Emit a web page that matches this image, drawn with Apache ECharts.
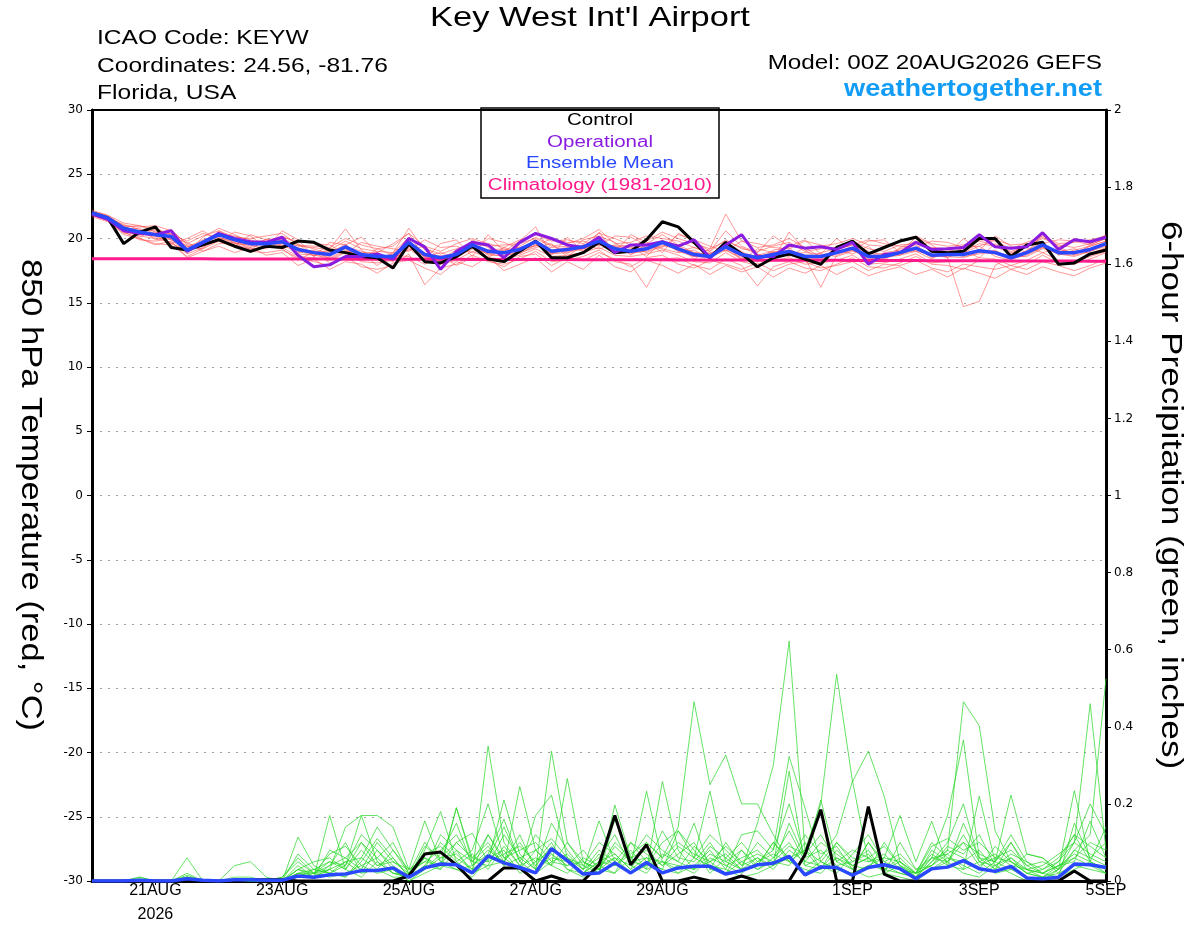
<!DOCTYPE html>
<html>
<head>
<meta charset="utf-8">
<title>Key West Int'l Airport</title>
<script src="https://cdn.jsdelivr.net/npm/echarts@6/dist/echarts.min.js"></script>
<style>
  html, body { margin: 0; padding: 0; background: #fff; }
  #chart { width: 1200px; height: 927px; }
</style>
</head>
<body>
<div id="chart"></div>
<script>
// forecast hours from 00Z 20AUG2026, every 6 h
var hours = [0,6,12,18,24,30,36,42,48,54,
  60,66,72,78,84,90,96,102,108,114,
  120,126,132,138,144,150,156,162,168,174,
  180,186,192,198,204,210,216,222,228,234,
  240,246,252,258,264,270,276,282,288,294,
  300,306,312,318,324,330,336,342,348,354,
  360,366,372,378,384];

// x axis labels
var tickIdx = [4, 12, 20, 28, 36, 48, 56, 64];
var tickLabels = ['21AUG\n2026', '23AUG', '25AUG', '27AUG', '29AUG', '1SEP', '3SEP', '5SEP'];

// 850 hPa temperature (C)
var controlT = [22.0,21.6,19.6,20.5,20.9,19.3,19.1,19.5,19.9,19.4,
  19.0,19.4,19.3,19.8,19.7,19.1,18.9,18.6,18.5,17.7,
  19.6,18.2,18.1,18.6,19.4,18.4,18.2,19.0,19.8,18.5,
  18.5,18.9,19.7,18.9,19.0,19.9,21.3,20.9,19.7,18.5,
  19.7,18.8,17.8,18.5,18.8,18.4,18.0,19.3,19.8,18.8,
  19.3,19.8,20.1,19.0,18.9,19.0,20.0,20.0,18.6,19.5,
  19.7,18.0,18.1,18.8,19.1];

var operT = [21.9,21.5,20.6,20.4,20.3,20.6,19.0,19.7,20.4,20.0,
  19.75,19.7,20.1,18.7,17.8,17.95,18.6,18.6,18.8,18.4,
  20.0,19.35,17.6,19.0,19.7,19.5,18.5,19.7,20.4,20.0,
  19.5,19.3,20.1,18.9,19.5,19.5,19.75,19.4,19.9,18.5,
  19.5,20.3,18.6,18.6,19.5,19.25,19.35,19.15,19.7,18.0,
  18.75,18.9,19.7,19.15,19.2,19.3,20.3,19.35,19.25,19.35,
  20.45,19.15,19.9,19.75,20.1];

var meanT = [22.0,21.6,20.8,20.5,20.3,20.15,19.1,19.7,20.3,19.9,
  19.6,19.6,19.75,19.15,18.9,18.75,19.35,18.75,18.6,18.6,
  19.7,18.75,18.5,18.75,19.5,19.0,18.9,19.15,19.75,19.0,
  19.15,19.35,19.8,19.2,19.0,19.2,19.7,19.2,18.75,18.6,
  19.35,18.75,18.5,18.75,19.0,18.6,18.6,18.9,19.25,18.6,
  18.6,18.9,19.25,18.7,18.75,18.75,19.05,18.9,18.5,18.9,
  19.5,18.9,18.9,19.15,19.6];

var climT = [18.43,18.43,18.43,18.43,18.42,18.42,18.42,18.42,18.41,18.41,
  18.41,18.41,18.40,18.40,18.40,18.40,18.39,18.39,18.39,18.39,
  18.38,18.38,18.38,18.38,18.37,18.37,18.37,18.37,18.36,18.36,
  18.36,18.35,18.35,18.35,18.34,18.34,18.34,18.33,18.33,18.33,
  18.32,18.32,18.31,18.31,18.31,18.30,18.30,18.30,18.29,18.29,
  18.28,18.28,18.28,18.27,18.27,18.27,18.26,18.26,18.25,18.25,
  18.25,18.24,18.24,18.23,18.23];

// ensemble members, temperature
var memT01 = [22.1,21.7,21.0,20.9,21.0,20.6,19.6,20.2,20.6,20.1,
  20.0,20.2,20.4,19.5,19.4,19.3,20.0,19.5,19.2,19.4,
  20.4,19.4,19.0,19.6,20.0,19.6,19.3,19.9,20.3,19.8,
  19.9,19.6,20.4,20.0,19.5,19.8,20.5,20.0,19.6,19.2,
  21.9,19.8,19.3,19.5,20.0,19.3,19.4,19.6,20.0,19.5,
  19.4,19.8,20.2,19.6,19.4,19.5,19.9,19.8,19.2,19.7,
  20.2,19.6,19.7,19.9,20.2];
var memT02 = [21.9,21.5,20.5,20.0,19.6,19.5,18.6,19.2,19.8,19.3,
  19.0,18.9,19.1,18.5,18.2,17.9,18.6,17.8,17.6,17.9,
  18.8,16.4,17.7,18.0,18.7,18.2,18.0,18.4,19.0,18.2,
  18.3,18.6,19.1,18.2,18.0,16.2,18.4,18.5,17.9,17.6,
  18.4,17.9,16.3,17.8,18.2,17.7,17.5,18.0,18.5,17.8,
  17.7,18.1,18.6,18.0,17.9,17.6,18.3,18.2,17.6,18.0,
  18.7,18.1,18.0,18.4,18.9];
var memT03 = [22.0,21.6,21.1,20.7,20.2,19.9,18.9,20.1,20.8,20.3,
  19.7,19.4,20.2,19.6,18.6,19.2,20.75,19.1,18.3,18.9,
  20.8,19.1,18.2,18.4,19.9,19.3,18.5,19.4,20.1,19.5,
  18.8,19.9,20.2,19.7,18.7,19.6,20.3,19.5,18.4,19.2,
  19.8,19.3,18.8,18.4,20.5,19.1,18.3,19.4,19.7,19.0,
  18.4,19.3,19.8,19.2,18.5,19.0,19.6,19.4,18.8,19.5,
  20.1,19.4,18.7,19.5,20.0];
var memT04 = [21.8,21.4,20.6,20.3,20.5,20.0,19.4,19.5,20.0,19.8,
  19.4,19.8,19.5,18.9,19.1,18.4,19.0,18.9,18.9,18.3,
  19.5,18.6,18.9,18.5,19.2,19.1,19.2,18.8,19.5,19.3,
  19.4,19.0,19.6,19.4,19.3,18.9,19.4,19.5,18.9,18.8,
  19.1,18.4,18.7,19.0,18.8,18.9,18.8,18.6,19.0,18.9,
  18.8,18.7,19.0,18.8,18.5,14.7,15.1,17.9,18.6,18.6,
  19.2,19.0,19.2,18.8,19.3];
var memT05 = [22.2,21.8,20.9,20.4,20.1,20.4,19.2,19.4,20.5,19.6,
  19.8,19.6,19.9,19.0,18.7,18.9,19.2,18.4,18.8,18.2,
  19.4,18.9,18.3,18.9,19.3,18.8,19.1,19.3,19.6,18.8,
  19.2,19.5,19.9,19.0,19.2,19.4,19.2,18.9,19.1,18.4,
  19.6,19.0,18.2,19.1,19.3,18.3,18.9,19.2,19.5,18.3,
  18.9,19.1,19.0,18.4,19.1,18.9,19.4,18.6,18.3,19.1,
  19.7,18.7,19.1,19.4,19.8];
var memT06 = [21.9,21.5,20.7,20.8,19.9,20.2,19.0,19.8,20.1,19.7,
  19.3,19.7,19.4,19.3,18.8,18.6,19.5,18.6,18.4,18.8,
  19.9,18.5,18.6,18.8,19.7,18.7,18.7,18.9,19.9,18.9,
  19.0,19.2,19.5,19.4,18.8,19.1,19.9,19.0,18.6,18.9,
  19.2,18.6,18.4,18.9,18.7,18.5,16.2,18.7,19.1,18.4,
  18.5,18.7,19.3,18.5,18.9,18.6,18.8,19.1,18.4,18.7,
  19.3,18.8,18.6,19.0,19.5];
var memT07 = [22.0,21.7,20.9,20.6,20.6,19.9,19.3,19.9,20.2,20.2,
  19.9,19.5,20.0,19.4,19.3,19.1,19.8,19.2,19.0,18.9,
  20.1,19.2,18.8,19.2,19.6,19.4,19.5,19.6,20.0,19.4,
  19.6,20.0,20.7,19.6,19.7,20.2,20.0,19.8,19.3,19.0,
  19.9,19.2,19.0,19.4,19.7,19.0,19.2,19.3,19.8,19.2,
  19.0,19.5,19.6,19.3,19.2,19.4,19.8,19.5,19.0,19.4,
  20.0,19.5,19.3,19.6,20.1];
var memT08 = [22.0,21.6,20.6,20.2,20.0,19.7,18.8,19.3,19.9,19.5,
  19.2,19.3,19.3,18.6,18.5,18.3,18.9,18.2,18.1,18.3,
  19.2,18.3,18.0,18.3,19.0,18.5,18.4,18.7,19.2,18.6,
  18.7,18.9,19.3,18.7,18.6,18.8,19.1,18.7,18.2,18.1,
  18.9,18.2,17.9,18.3,18.5,18.0,18.1,18.3,18.7,18.0,
  18.1,18.4,18.8,18.1,18.2,18.2,18.5,18.4,17.9,18.3,
  18.9,18.3,18.2,18.6,19.0];
var memT09 = [21.9,21.6,21.0,20.3,20.4,20.7,19.5,19.6,20.4,20.0,
  19.6,19.9,19.6,19.2,19.0,19.0,19.4,19.0,18.7,18.5,
  19.6,18.8,18.6,18.6,19.4,18.9,18.8,19.2,19.7,19.1,
  19.3,19.4,19.9,19.3,19.1,19.3,19.6,19.3,18.9,18.6,
  19.3,18.9,18.6,18.9,19.1,18.7,18.7,19.0,19.3,18.7,
  18.7,19.0,19.2,18.8,18.8,18.8,19.1,19.0,18.6,19.0,
  19.5,19.0,19.0,19.2,19.6];
var memT10 = [21.7,21.3,20.4,20.5,20.2,19.6,19.1,19.5,20.0,19.6,
  19.5,19.2,19.8,18.8,18.7,18.5,19.1,18.5,18.5,18.4,
  19.3,18.6,18.4,18.6,19.3,18.8,18.6,19.0,19.5,18.8,
  18.9,19.2,19.6,18.9,18.9,19.0,19.5,19.1,18.6,18.5,
  19.1,18.5,18.4,18.6,18.9,18.5,18.4,18.8,19.1,18.5,
  18.5,18.8,19.1,18.6,18.6,18.5,18.9,18.8,18.4,18.8,
  19.3,18.8,18.7,19.0,19.4];
var memT11 = [22.1,21.8,21.2,21.0,20.7,20.3,19.8,20.4,20.0,19.4,
  20.3,19.9,20.1,19.8,19.6,19.5,18.8,19.7,19.4,19.2,
  19.0,19.9,19.3,19.4,18.9,20.0,19.7,19.2,19.4,20.0,
  19.7,19.8,19.4,20.2,20.1,19.5,19.3,20.3,19.9,19.4,
  19.0,19.8,19.6,19.3,19.2,19.8,19.5,19.1,19.5,19.9,
  19.6,19.4,19.3,19.8,19.7,19.3,19.4,19.9,19.5,19.6,
  19.6,19.9,19.8,19.5,20.0];
var memT12 = [21.8,21.4,20.5,19.9,19.8,20.0,19.7,19.0,19.6,19.7,
  18.9,19.4,19.2,18.3,19.0,18.1,18.4,18.9,17.9,18.7,
  18.6,18.0,18.7,17.9,18.5,18.3,17.8,18.6,18.8,17.9,
  18.5,18.3,18.9,18.4,17.8,18.5,18.7,18.0,17.7,18.3,
  18.0,17.6,18.1,17.5,18.0,18.2,17.7,17.9,18.2,17.5,
  18.0,17.9,18.3,17.7,17.4,18.0,17.8,17.6,17.9,17.6,
  18.2,17.9,17.5,17.9,18.4];
var memT13 = [22.0,21.7,20.9,21.0,20.5,19.6,20.0,20.6,19.8,20.5,
  20.2,19.3,20.6,19.9,18.6,19.7,19.5,20.1,18.9,19.6,
  20.4,18.4,19.6,19.9,18.6,20.3,19.0,19.8,20.9,18.7,
  20.1,19.0,20.5,18.9,20.3,19.7,18.9,20.4,19.8,19.0,
  20.6,19.4,18.9,20.2,19.4,19.9,18.8,20.0,19.1,19.8,
  19.9,18.9,20.1,19.5,18.7,20.0,19.1,20.2,19.4,18.9,
  20.3,19.3,20.0,19.6,20.3];
var memT14 = [21.9,21.4,20.3,20.0,19.5,19.8,18.5,19.0,19.4,18.9,
  19.3,18.7,18.9,17.9,18.4,17.6,18.2,18.0,17.3,18.1,
  18.3,17.7,17.2,18.2,17.8,18.6,17.5,18.0,18.5,17.4,
  18.2,17.6,18.7,17.8,17.4,18.3,17.9,17.3,18.0,17.2,
  17.9,17.4,17.8,17.0,17.7,17.3,17.9,17.2,17.8,17.1,
  17.5,17.8,17.2,17.6,17.0,17.7,17.3,16.9,17.6,17.2,
  17.8,17.4,17.1,17.7,18.1];
var memT15 = [22.0,21.5,20.7,20.1,20.8,20.3,19.4,19.2,20.6,19.9,
  19.1,20.0,19.4,19.5,19.2,18.8,19.6,18.3,19.2,18.7,
  19.1,19.4,18.4,19.1,19.6,18.5,19.3,18.9,19.3,19.6,
  18.6,19.5,19.2,19.5,19.4,18.6,19.8,19.0,19.3,18.8,
  19.5,18.3,19.2,18.9,18.6,19.3,18.5,19.1,18.8,19.4,
  18.3,19.2,19.5,18.6,19.3,19.1,18.5,19.6,18.9,19.3,
  18.9,19.2,18.8,19.4,19.8];

// 6-hour precipitation (inches)
var controlP = [0,0,0,0,0,0,0,0,0,0,
  0.003,0.003,0.003,0,0,0,0,0,0,0,
  0.013,0.07,0.075,0.042,0,0,0.034,0.034,0,0.013,
  0,0,0.042,0.17,0.042,0.094,0,0,0.01,0,
  0,0.013,0,0,0,0.068,0.185,0,0,0.193,
  0.018,0,0,0,0,0,0,0,0,0,
  0,0,0.026,0,0];
var meanP = [0,0,0,0.002,0,0,0.006,0.002,0,0.003,
  0.003,0.002,0.002,0.013,0.01,0.016,0.018,0.027,0.027,0.034,
  0.01,0.034,0.044,0.042,0.021,0.065,0.047,0.035,0.021,0.084,
  0.053,0.018,0.021,0.047,0.021,0.048,0.021,0.034,0.038,0.038,
  0.018,0.027,0.042,0.046,0.064,0.016,0.036,0.035,0.015,0.035,
  0.042,0.032,0.006,0.032,0.036,0.053,0.032,0.025,0.038,0.008,
  0.006,0.01,0.044,0.042,0.035];

// ensemble members, precipitation
var memP01 = [0,0,0,0,0,0,0.01,0,0,0,
  0,0,0,0.02,0.01,0.17,0.03,0.01,0.05,0.02,
  0.01,0.04,0.03,0.19,0.05,0.12,0.06,0.03,0.08,0.04,
  0.02,0.06,0.04,0.02,0.1,0.05,0.03,0.13,0.08,0.02,
  0.06,0.03,0.15,0.3,0.622,0.08,0.03,0.1,0.05,0.07,
  0.02,0.04,0.01,0.05,0.08,0.465,0.403,0.13,0.05,0.02,
  0.01,0.03,0.06,0.04,0.02];
var memP02 = [0,0,0,0.01,0,0,0.06,0,0,0.04,
  0.05,0.01,0,0.114,0.04,0.02,0.01,0.06,0.03,0.01,
  0.01,0.08,0.18,0.05,0.02,0.35,0.1,0.04,0.02,0.07,
  0.03,0.02,0.05,0.07,0.03,0.1,0.06,0.14,0.465,0.25,
  0.327,0.2,0.2,0.12,0.05,0.03,0.02,0.06,0.03,0.01,
  0.02,0.01,0,0.03,0.05,0.02,0.01,0.04,0.02,0,
  0,0.01,0.03,0.05,0.02];
var memP03 = [0,0,0,0,0,0,0.015,0,0,0,
  0,0,0,0.03,0.01,0.04,0.1,0.02,0.08,0.03,
  0,0.03,0.06,0.1,0.124,0.05,0.21,0.07,0.03,0.337,
  0.1,0.04,0.02,0.197,0.06,0.03,0.258,0.08,0.03,0.05,
  0.02,0.08,0.04,0.1,0.05,0.08,0.2,0.536,0.258,0.337,
  0.22,0.05,0.02,0.04,0.07,0.03,0.05,0.02,0.03,0.01,
  0,0.03,0.1,0.46,0.08];
var memP04 = [0,0,0,0,0,0,0.01,0,0,0,
  0,0,0.01,0.05,0.02,0.03,0.14,0.17,0.05,0.02,
  0.02,0.05,0.04,0.19,0.06,0.1,0.04,0.245,0.08,0.04,
  0.266,0.05,0.03,0.06,0.04,0.233,0.05,0.02,0.06,0.233,
  0.05,0.03,0.06,0.04,0.285,0.04,0.03,0.08,0.04,0.06,
  0.03,0.02,0.01,0.06,0.17,0.366,0.06,0.03,0.1,0.03,
  0.01,0.02,0.08,0.12,0.525];
var memP05 = [0,0,0,0.01,0,0,0.02,0,0,0,
  0,0,0,0.02,0.03,0.02,0.04,0.17,0.17,0.14,
  0.03,0.156,0.05,0.03,0.04,0.08,0.05,0.03,0.17,0.223,
  0.06,0.03,0.156,0.05,0.02,0.04,0.1,0.13,0.06,0.04,
  0.03,0.12,0.13,0.08,0.323,0.19,0.05,0.03,0.02,0.04,
  0.06,0.17,0.05,0.155,0.04,0.03,0.22,0.05,0.223,0.07,
  0.06,0.03,0.234,0.05,0.03];
var memP06 = [0,0,0,0,0,0,0,0,0,0.01,
  0.01,0,0.01,0.06,0.02,0.05,0.03,0.08,0.04,0.06,
  0.01,0.04,0.1,0.06,0.03,0.12,0.05,0.1,0.04,0.09,
  0.05,0.02,0.07,0.04,0.08,0.03,0.05,0.04,0.02,0.06,
  0.04,0.02,0.05,0.08,0.2,0.06,0.21,0.05,0.03,0.1,
  0.04,0.02,0.01,0.08,0.05,0.1,0.04,0.06,0.08,0.04,
  0.02,0.01,0.15,0.06,0.04];
var memP07 = [0,0,0,0,0,0,0.01,0,0,0,
  0,0,0,0.04,0.01,0.08,0.06,0.03,0.1,0.05,
  0.02,0.03,0.07,0.15,0.04,0.07,0.16,0.05,0.02,0.05,
  0.04,0.08,0.03,0.02,0.06,0.08,0.04,0.07,0.1,0.03,
  0.02,0.05,0.03,0.06,0.1,0.04,0.06,0.12,0.26,0.05,
  0.07,0.03,0.02,0.04,0.08,0.06,0.03,0.09,0.05,0.02,
  0.01,0.04,0.05,0.155,0.06];
var memP08 = [0,0,0,0.005,0,0,0.005,0,0,0,
  0,0,0,0.01,0.02,0.01,0.02,0.04,0.02,0.03,
  0,0.02,0.04,0.03,0.01,0.06,0.08,0.02,0.05,0.1,
  0.03,0.01,0.04,0.06,0.02,0.05,0.03,0.02,0.04,0.08,
  0.03,0.01,0.02,0.04,0.06,0.02,0.05,0.03,0.02,0.04,
  0.03,0.05,0.01,0.03,0.06,0.04,0.02,0.05,0.03,0.07,
  0.06,0.02,0.04,0.03,0.02];
var memP09 = [0,0,0,0,0,0,0,0,0,0,
  0,0,0,0.03,0.05,0.06,0.03,0.1,0.06,0.02,
  0.01,0.06,0.03,0.08,0.02,0.04,0.12,0.06,0.03,0.15,
  0.08,0.03,0.06,0.12,0.04,0.02,0.07,0.05,0.15,0.03,
  0.1,0.04,0.06,0.03,0.08,0.05,0.04,0.02,0.07,0.12,
  0.05,0.03,0.02,0.1,0.06,0.05,0.08,0.03,0.06,0.02,
  0.03,0.06,0.12,0.05,0.03];
var memP10 = [0,0,0,0,0,0,0.01,0,0,0,
  0,0,0,0.07,0.03,0.02,0.05,0.02,0.03,0.08,
  0.02,0.1,0.05,0.04,0.07,0.03,0.09,0.04,0.06,0.04,
  0.1,0.05,0.02,0.16,0.05,0.06,0.02,0.04,0.03,0.07,
  0.05,0.08,0.03,0.05,0.04,0.1,0.03,0.06,0.04,0.03,
  0.1,0.04,0.01,0.05,0.1,0.2,0.05,0.04,0.06,0.03,
  0.02,0.04,0.06,0.1,0.08];
var memP11 = [0,0,0,0,0,0,0,0,0,0,
  0,0,0,0.01,0.01,0.03,0.01,0.05,0.11,0.06,
  0.01,0.03,0.12,0.08,0.05,0.04,0.05,0.12,0.03,0.06,
  0.05,0.02,0.03,0.09,0.05,0.04,0.13,0.06,0.05,0.1,
  0.04,0.06,0.08,0.04,0.15,0.06,0.08,0.04,0.05,0.08,
  0.02,0.1,0.03,0.06,0.05,0.12,0.05,0.07,0.04,0.03,
  0.02,0.05,0.1,0.07,0.05];
var memP12 = [0,0,0,0,0,0,0.01,0,0,0,
  0,0,0,0.02,0.02,0.04,0.06,0.1,0.04,0.05,
  0.03,0.06,0.04,0.1,0.06,0.05,0.07,0.09,0.05,0.08,
  0.06,0.04,0.1,0.07,0.03,0.06,0.05,0.03,0.09,0.05,
  0.07,0.03,0.04,0.1,0.06,0.08,0.05,0.1,0.06,0.05,
  0.06,0.05,0.02,0.07,0.04,0.15,0.06,0.05,0.1,0.04,
  0.05,0.03,0.08,0.06,0.1];
var memP13 = [0,0,0,0,0,0,0,0,0,0,
  0,0,0,0.03,0.02,0.07,0.09,0.04,0.06,0.1,
  0.02,0.07,0.09,0.05,0.08,0.2,0.06,0.08,0.1,0.05,
  0.07,0.03,0.08,0.05,0.1,0.07,0.04,0.09,0.06,0.12,
  0.08,0.04,0.1,0.06,0.13,0.05,0.1,0.07,0.04,0.06,
  0.09,0.04,0.02,0.09,0.11,0.08,0.1,0.06,0.05,0.03,
  0.04,0.07,0.1,0.2,0.12];
var memP14 = [0,0,0,0.005,0,0,0.01,0,0,0,
  0,0,0,0.01,0.03,0.05,0.04,0.12,0.08,0.04,
  0.01,0.09,0.06,0.07,0.03,0.06,0.14,0.05,0.12,0.07,
  0.04,0.05,0.03,0.1,0.06,0.12,0.08,0.05,0.03,0.09,
  0.06,0.1,0.05,0.07,0.05,0.12,0.07,0.09,0.03,0.1,
  0.05,0.07,0.03,0.04,0.09,0.07,0.12,0.04,0.07,0.05,
  0.03,0.05,0.12,0.09,0.06];
var memP15 = [0,0,0,0,0,0,0.005,0,0,0,
  0,0,0,0.02,0.01,0.03,0.05,0.06,0.14,0.08,
  0.03,0.05,0.08,0.12,0.05,0.09,0.04,0.06,0.08,0.11,
  0.06,0.02,0.05,0.04,0.07,0.1,0.06,0.1,0.07,0.05,
  0.09,0.05,0.07,0.05,0.09,0.07,0.12,0.05,0.08,0.06,
  0.03,0.06,0.02,0.06,0.07,0.1,0.07,0.05,0.12,0.05,
  0.02,0.04,0.07,0.05,0.14];

var membersT = [memT01, memT02, memT03, memT04, memT05, memT06, memT07, memT08,
  memT09, memT10, memT11, memT12, memT13, memT14, memT15];
var membersP = [memP01, memP02, memP03, memP04, memP05, memP06, memP07, memP08,
  memP09, memP10, memP11, memP12, memP13, memP14, memP15];

var FONT = '"Liberation Sans", Arial, Helvetica, sans-serif';
var TICKFONT = '"DejaVu Sans", sans-serif';

function lineSeries(name, data, yIdx, color, width, z) {
  return {
    name: name,
    type: 'line',
    yAxisIndex: yIdx,
    data: data,
    symbol: 'none',
    silent: true,
    z: z,
    lineStyle: { color: color, width: width },
    emphasis: { disabled: true }
  };
}

var series = [];
for (var i = 0; i < membersP.length; i++) {
  series.push(lineSeries('memP' + (i + 1), membersP[i], 1, 'rgba(40,215,40,0.9)', 0.8, 2));
}
for (var j = 0; j < membersT.length; j++) {
  series.push(lineSeries('memT' + (j + 1), membersT[j], 0, 'rgba(255,70,70,0.7)', 0.8, 2));
}
series.push(lineSeries('Climatology (1981-2010)', climT, 0, '#ff1a8c', 3, 3));
series.push(lineSeries('Control P', controlP, 1, '#000000', 3, 4));
series.push(lineSeries('Mean P', meanP, 1, '#2a48ff', 3.5, 5));
series.push(lineSeries('Control', controlT, 0, '#000000', 3, 4));
series.push(lineSeries('Operational', operT, 0, '#8a1be0', 3, 5));
series.push(lineSeries('Ensemble Mean', meanT, 0, '#2a48ff', 3.5, 6));

var legendItems = [
  { text: 'Control', color: '#000000' },
  { text: 'Operational', color: '#8a1be0' },
  { text: 'Ensemble Mean', color: '#2a48ff' },
  { text: 'Climatology (1981-2010)', color: '#ff1a8c' }
];
var legendChildren = [{
  type: 'rect',
  shape: { x: 0, y: 0, width: 238, height: 90 },
  style: { fill: '#ffffff', stroke: '#000000', lineWidth: 1.5 }
}];
for (var k = 0; k < legendItems.length; k++) {
  legendChildren.push({
    type: 'text',
    x: 119, y: 13 + k * 21.5, scaleX: 1.28,
    style: {
      text: legendItems[k].text, fill: legendItems[k].color,
      font: '16px ' + FONT, align: 'center', verticalAlign: 'middle'
    }
  });
}

function label(txt, x, y, font, align, sx, color) {
  return {
    type: 'text', x: x, y: y, z: 10, scaleX: sx,
    style: {
      text: txt, fill: color || '#000', font: font,
      align: align, verticalAlign: 'middle'
    }
  };
}

var dom = document.getElementById('chart');
var myChart = echarts.init(dom);
var option = {
  animation: false,
  backgroundColor: '#ffffff',
  grid: {
    left: 92, right: 94, top: 110, bottom: 44,
    show: false
  },
  xAxis: [{
    type: 'category',
    data: hours,
    boundaryGap: false,
    position: 'bottom',
    axisLine: { onZero: false, lineStyle: { color: '#000', width: 3 } },
    axisTick: {
      interval: function (idx) { return tickIdx.indexOf(idx) >= 0; },
      length: 4, lineStyle: { color: '#000', width: 1 }
    },
    axisLabel: {
      interval: function (idx) { return tickIdx.indexOf(idx) >= 0; },
      formatter: function (v, idx) {
        var n = tickIdx.indexOf(idx);
        return n >= 0 ? tickLabels[n] : '';
      },
      color: '#000', fontSize: 16, fontFamily: FONT, lineHeight: 24, margin: -2
    },
    splitLine: { show: false }
  }, {
    type: 'category',
    data: hours,
    boundaryGap: false,
    position: 'top',
    axisLine: { onZero: false, lineStyle: { color: '#000', width: 2 } },
    axisTick: { show: false },
    axisLabel: { show: false },
    splitLine: { show: false }
  }],
  yAxis: [{
    type: 'value',
    min: -30, max: 30, interval: 5,
    position: 'left',
    axisLine: { show: true, onZero: false, lineStyle: { color: '#000', width: 3 } },
    axisTick: { show: true, length: 5, lineStyle: { color: '#000', width: 1 } },
    axisLabel: { color: '#000', fontSize: 12, fontFamily: TICKFONT, margin: 9 },
    splitLine: { show: true, lineStyle: { color: '#a0a0a0', width: 1, type: [2, 6] } }
  }, {
    type: 'value',
    min: 0, max: 2, interval: 0.2,
    position: 'right',
    axisLine: { show: true, onZero: false, lineStyle: { color: '#000', width: 3 } },
    axisTick: { show: true, length: 5, lineStyle: { color: '#000', width: 1 } },
    axisLabel: { color: '#000', fontSize: 12, fontFamily: TICKFONT, margin: 8 },
    splitLine: { show: false }
  }],
  graphic: [
    label("Key West Int'l Airport", 590, 18, '28px ' + FONT, 'center', 1.23),
    label('ICAO Code: KEYW', 97, 38, '21px ' + FONT, 'left', 1.17),
    label('Coordinates: 24.56, -81.76', 97, 66, '21px ' + FONT, 'left', 1.17),
    label('Florida, USA', 97, 93, '21px ' + FONT, 'left', 1.17),
    label('Model: 00Z 20AUG2026 GEFS', 1102, 63, '21px ' + FONT, 'right', 1.155),
    label('weathertogether.net', 1102, 90, 'bold 23px ' + FONT, 'right', 1.18, '#119cf5'),
    { type: 'text', x: 30, y: 495, rotation: -Math.PI / 2, scaleX: 1.15, z: 10,
      style: { text: '850 hPa Temperature (red, \u00B0C)', fill: '#000', font: '30px ' + FONT,
        align: 'center', verticalAlign: 'middle' } },
    { type: 'text', x: 1170, y: 495, rotation: -Math.PI / 2, scaleX: 1.17, z: 10,
      style: { text: '6-hour Precipitation (green, inches)', fill: '#000', font: '30px ' + FONT,
        align: 'center', verticalAlign: 'middle' } },
    { type: 'group', x: 481, y: 108, z: 20, children: legendChildren }
  ],
  series: series
};

if (option && typeof option === 'object') {
  myChart.setOption(option, true);
}
</script>
</body>
</html>
